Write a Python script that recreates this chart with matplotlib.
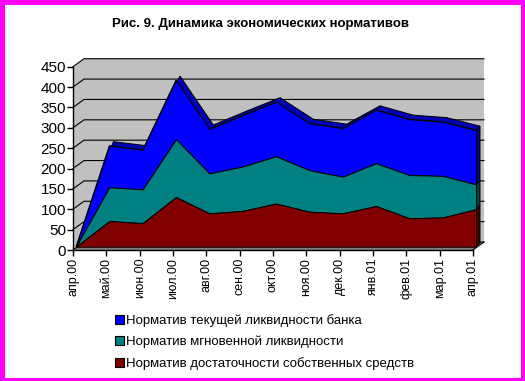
import numpy as np
import matplotlib
matplotlib.use('Agg')
import matplotlib.pyplot as plt
from matplotlib.patches import Patch, Rectangle

plt.rcParams['font.family'] = ['Liberation Sans', 'DejaVu Sans']

W, H = 525, 381

months = ['апр.00', 'май.00', 'июн.00', 'июл.00', 'авг.00', 'сен.00', 'окт.00',
          'ноя.00', 'дек.00', 'янв.01', 'фев.01', 'мар.01', 'апр.01']
capital = [0, 63, 58, 122, 82, 88, 106, 86, 82, 100, 70, 72, 92]
instant = [0, 83, 83, 142, 98, 109, 116, 102, 90, 105, 106, 102, 61]
current = [0, 102, 97, 145, 109, 126, 134, 115, 119, 131, 137, 133, 133]
yticks = list(range(0, 451, 50))

labels = ['Норматив текущей ликвидности банка',
          'Норматив мгновенной ликвидности',
          'Норматив достаточности собственных средств']

# псевдо-3D: сдвиг задней стенки и передней грани рядов (в единицах данных)
WALL_DX, WALL_DY = 0.33, 19.6
FACE_DX, FACE_DY = 0.09, 8
TOP_DX, TOP_DY = 0.12, 10
LW = 0.7

fig = plt.figure(figsize=(W / 100, H / 100), dpi=100, facecolor='#FF00FF')
fig.add_artist(Rectangle((5 / W, 3 / H), 516 / W, 373 / H, transform=fig.transFigure,
                         facecolor='white', edgecolor='none', zorder=-1))

ax = fig.add_axes([73 / W, (H - 250) / H, 400 / W, 183.3 / H])
ax.patch.set_visible(False)
ax.set_xlim(0, 12)
ax.set_ylim(0, 450)

ymax = yticks[-1]
# стенки и пол
ax.fill([0, WALL_DX, WALL_DX, 0], [0, WALL_DY, ymax + WALL_DY, ymax],
        color='#C0C0C0', lw=0, zorder=1, clip_on=False)
ax.fill([WALL_DX, 12 + WALL_DX, 12 + WALL_DX, WALL_DX],
        [WALL_DY, WALL_DY, ymax + WALL_DY, ymax + WALL_DY],
        color='#C0C0C0', lw=0, zorder=1, clip_on=False)
ax.fill([0, WALL_DX, 12 + WALL_DX, 12], [0, WALL_DY, WALL_DY, 0],
        color='#808080', lw=0, zorder=1, clip_on=False)
for v in yticks:
    ax.plot([0, WALL_DX, 12 + WALL_DX], [v, v + WALL_DY, v + WALL_DY],
            color='black', lw=0.8, zorder=2, clip_on=False)
ax.plot([12, 12 + WALL_DX], [0, WALL_DY], color='black', lw=0.8, zorder=2, clip_on=False)

# ряды с накоплением
x = np.arange(len(months)) + FACE_DX
low1 = np.zeros(len(x)) + FACE_DY
top1 = low1 + np.array(capital)
top2 = top1 + np.array(instant)
top3 = top2 + np.array(current)

# верхняя грань синего ряда
ax.fill(np.r_[x, x[::-1] + TOP_DX], np.r_[top3, top3[::-1] + TOP_DY],
        facecolor='#0000B8', edgecolor='black', lw=LW, zorder=3, clip_on=False)

series = [(low1, top1, '#800000', '#400000'),
          (top1, top2, '#008080', '#004040'),
          (top2, top3, '#0000FF', '#000080')]
for low, top, col, side in series:
    ax.fill([x[-1], x[-1] + TOP_DX, x[-1] + TOP_DX, x[-1]],
            [low[-1], low[-1] + TOP_DY, top[-1] + TOP_DY, top[-1]],
            facecolor=side, edgecolor='black', lw=LW, zorder=3, clip_on=False)
for low, top, col, side in series[::-1]:
    ax.fill_between(x, low, top, facecolor=col, edgecolor='black', lw=LW, zorder=4, clip_on=False)

for s in ['top', 'right']:
    ax.spines[s].set_visible(False)
for s in ['left', 'bottom']:
    ax.spines[s].set_linewidth(1.0)
    ax.spines[s].set_zorder(6)

ax.set_yticks(yticks)
ax.set_yticklabels([str(v) for v in yticks], fontsize=11)
ax.set_xticks(range(len(months)))
ax.set_xticklabels(months, rotation=90, fontsize=9)
ax.tick_params(axis='y', length=4, width=1, pad=1)
ax.tick_params(axis='x', length=4, width=1, pad=1.5)

fig.text(261 / W, (H - 24) / H, 'Рис. 9. Динамика экономических нормативов',
         ha='center', va='center', fontsize=9.5, fontweight='bold')

handles = [Patch(facecolor=c, edgecolor='black', lw=0.8) for c in ['#0000FF', '#008080', '#800000']]
fig.legend(handles, labels, loc='center left', bbox_to_anchor=(115 / W, (H - 342) / H),
           frameon=False, fontsize=9.5, handlelength=0.65, handleheight=0.65,
           handletextpad=0.2, labelspacing=0.66, borderpad=0, borderaxespad=0)

fig.savefig('out.png', dpi=100, facecolor=fig.get_facecolor())
